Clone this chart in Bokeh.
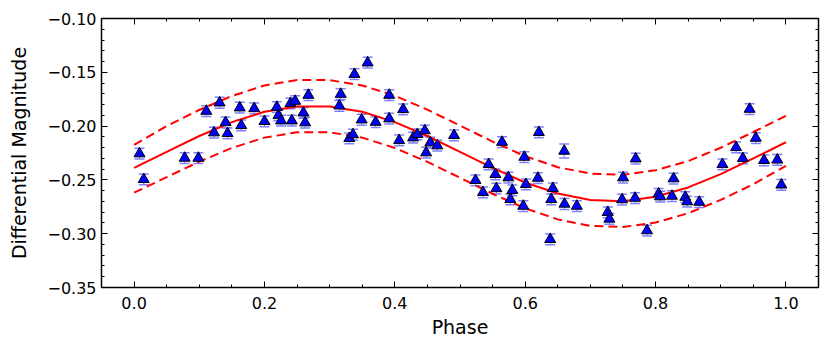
from bokeh.plotting import figure
from bokeh.models import (ColumnDataSource, Range1d, FixedTicker, LinearAxis,
                          CustomJSTickFormatter, Whisker, TeeHead)
from bokeh.embed import file_html
from bokeh.resources import INLINE

# ---- observed points ----
phase = [0.0083, 0.0148, 0.0776, 0.0986, 0.1108, 0.1226, 0.1312, 0.1404, 0.1434, 0.1621,
         0.1644, 0.1843, 0.2001, 0.2190, 0.2215, 0.2256, 0.2420, 0.2399, 0.2471, 0.2598,
         0.2624, 0.2674, 0.3170, 0.3149, 0.3302, 0.3358, 0.3381, 0.3583, 0.3491, 0.3706,
         0.3914, 0.3914, 0.4067, 0.4128, 0.4281, 0.4346, 0.4460, 0.4480, 0.4545, 0.4652,
         0.4909, 0.5238, 0.5353, 0.5440, 0.5543, 0.5558, 0.5645, 0.5742, 0.5803, 0.5772,
         0.5971, 0.5987, 0.6011, 0.6210, 0.6195, 0.6384, 0.6400, 0.6424, 0.6599, 0.6603,
         0.6792, 0.7266, 0.7292, 0.7487, 0.7502, 0.7695, 0.7686, 0.7869, 0.8047, 0.8073,
         0.8277, 0.8252, 0.8456, 0.8486, 0.8670, 0.9026, 0.9236, 0.9339, 0.9443, 0.9538,
         0.9665, 0.9868, 0.9930]
mag = [-0.2256, -0.2495, -0.2297, -0.2297, -0.1861, -0.2061, -0.1783, -0.1966, -0.2068, -0.1829,
       -0.1994, -0.1836, -0.1956, -0.1824, -0.1901, -0.1950, -0.1950, -0.1789, -0.1768, -0.1876,
       -0.1968, -0.1712, -0.1703, -0.1811, -0.2114, -0.2079, -0.1518, -0.1411, -0.1941, -0.1963,
       -0.1712, -0.1931, -0.2133, -0.1845, -0.2108, -0.2077, -0.2042, -0.2247, -0.2154, -0.2182,
       -0.2086, -0.2504, -0.2616, -0.2356, -0.2448, -0.2580, -0.2149, -0.2479, -0.2597, -0.2681,
       -0.2743, -0.2288, -0.2541, -0.2058, -0.2483, -0.3052, -0.2681, -0.2578, -0.2232, -0.2724,
       -0.2743, -0.2801, -0.2863, -0.2683, -0.2479, -0.2303, -0.2669, -0.2971, -0.2630, -0.2656,
       -0.2488, -0.2650, -0.2660, -0.2702, -0.2706, -0.2356, -0.2198, -0.2300, -0.1842, -0.2111,
       -0.2318, -0.2314, -0.2546]
err = [0.005] * len(phase)
err[58] = 0.0065

# ---- fitted curve and its band ----
fit_phase = [0.00, 0.05, 0.10, 0.15, 0.20, 0.25, 0.30, 0.35, 0.40, 0.45, 0.50,
             0.55, 0.60, 0.65, 0.70, 0.75, 0.80, 0.85, 0.90, 0.95, 1.00]
fit_mag = [-0.2389, -0.2240, -0.2092, -0.1963, -0.1867, -0.1817, -0.1817, -0.1867, -0.1963,
           -0.2092, -0.2240, -0.2389, -0.2524, -0.2627, -0.2687, -0.2698, -0.2656, -0.2570,
           -0.2446, -0.2300, -0.2150]
upper_mag = [-0.2175, -0.2000, -0.1850, -0.1720, -0.1622, -0.1572, -0.1572, -0.1622, -0.1718,
             -0.1847, -0.1995, -0.2144, -0.2279, -0.2382, -0.2442, -0.2453, -0.2411, -0.2325,
             -0.2201, -0.2055, -0.1905]
lower_mag = [-0.2619, -0.2475, -0.2330, -0.2203, -0.2107, -0.2057, -0.2057, -0.2107, -0.2203,
             -0.2332, -0.2480, -0.2629, -0.2764, -0.2867, -0.2927, -0.2938, -0.2896, -0.2810,
             -0.2686, -0.2540, -0.2370]

x_ticks = [0.0, 0.2, 0.4, 0.6, 0.8, 1.0]
y_ticks = [-0.35, -0.30, -0.25, -0.20, -0.15, -0.10]

FONT = "DejaVu Sans"

p = figure(width=821, height=342, output_backend="svg", toolbar_location=None,
           x_range=Range1d(-0.05, 1.05), y_range=Range1d(-0.35, -0.10),
           min_border_left=101, min_border_right=3, min_border_top=18, min_border_bottom=55,
           x_axis_label="Phase", y_axis_label="Differential Magnitude")
p.grid.visible = False
p.outline_line_color = "black"
p.outline_line_width = 1.5
p.background_fill_color = "white"
p.border_fill_color = "white"

xt = FixedTicker(ticks=x_ticks, minor_ticks=[round(0.05 * i, 2) for i in range(0, 22)])
yt = FixedTicker(ticks=y_ticks, minor_ticks=[round(-0.35 + 0.01 * i, 2) for i in range(0, 26)])

def style(ax, ticker, digits, labels=True):
    ax.ticker = ticker
    if labels:
        ax.formatter = CustomJSTickFormatter(
            code="var s = tick.toFixed(%d); return s.replace('-', '\\u2212');" % digits)
    else:
        ax.formatter = CustomJSTickFormatter(code="return '';")
        ax.major_label_standoff = 0
        ax.major_label_text_font_size = "8px"
    ax.axis_line_color = None
    ax.major_tick_in = 6
    ax.major_tick_out = 0
    ax.minor_tick_in = 3
    ax.minor_tick_out = 0
    ax.major_tick_line_color = "black"
    ax.minor_tick_line_color = "black"
    ax.major_tick_line_width = 1
    ax.minor_tick_line_width = 1
    ax.major_label_text_font = FONT
    ax.major_label_text_color = "black"
    ax.axis_label_text_font = FONT
    ax.axis_label_text_font_style = "normal"
    ax.axis_label_text_color = "black"

style(p.xaxis[0], xt, 1)
style(p.yaxis[0], yt, 2)
p.xaxis[0].major_label_text_font_size = "16px"
p.yaxis[0].major_label_text_font_size = "16px"
p.xaxis[0].axis_label_text_font_size = "19px"
p.yaxis[0].axis_label_text_font_size = "19px"
p.xaxis[0].major_label_standoff = 9
p.yaxis[0].major_label_standoff = 5
p.xaxis[0].axis_label_standoff = 4
p.yaxis[0].axis_label_standoff = 14

top = LinearAxis()
style(top, xt, 1, labels=False)
p.add_layout(top, "above")
right = LinearAxis()
style(right, yt, 2, labels=False)
p.add_layout(right, "right")

# fitted curve and band
p.line(fit_phase, fit_mag, line_color="#ff0000", line_width=2)
p.line(fit_phase, upper_mag, line_color="#ff0000", line_width=2, line_dash="9 5")
p.line(fit_phase, lower_mag, line_color="#ff0000", line_width=2, line_dash="9 5")

# error bars
src = ColumnDataSource(dict(
    x=phase, y=mag,
    up=[m + e for m, e in zip(mag, err)],
    lo=[m - e for m, e in zip(mag, err)]))
eb_color = "#8080ff"
wh = Whisker(source=src, base="x", upper="up", lower="lo", line_color=eb_color, line_width=1,
             upper_head=TeeHead(size=10, line_color=eb_color, line_width=1.5),
             lower_head=TeeHead(size=10, line_color=eb_color, line_width=1.5))
p.add_layout(wh)

p.scatter("x", "y", source=src, marker="triangle", size=11,
          fill_color="#0000ff", line_color="black", line_width=1)

open("out.html", "w").write(file_html(p, INLINE))
